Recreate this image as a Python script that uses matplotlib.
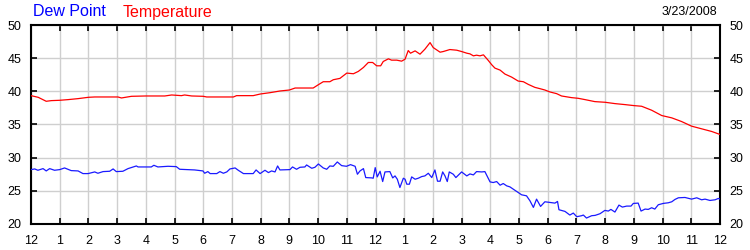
import matplotlib
matplotlib.use("Agg")
import matplotlib.pyplot as plt

plt.rcParams['font.family'] = ['Liberation Sans', 'DejaVu Sans']

# Temperature readings (hours since midnight, degrees F)
temp_hours = [0.0, 0.25, 0.53, 0.71, 1.0, 1.29, 1.64, 2.0, 2.22, 3.03, 3.15, 3.5, 4.0,
              4.66, 4.9, 5.24, 5.35, 5.6, 6.0, 6.12, 7.05, 7.16, 7.74, 7.99, 8.33, 8.67,
              9.0, 9.2, 9.83, 10.01, 10.18, 10.41, 10.53, 10.76, 11.0, 11.23, 11.4, 11.58,
              11.75, 11.9, 12.04, 12.18, 12.27, 12.45, 12.56, 12.74, 12.91, 13.03, 13.14,
              13.22, 13.38, 13.55, 13.72, 13.9, 14.01, 14.25, 14.36, 14.59, 14.83, 15.0,
              15.18, 15.29, 15.41, 15.52, 15.64, 15.76, 15.93, 16.05, 16.16, 16.34, 16.51,
              16.74, 16.97, 17.15, 17.32, 17.55, 17.73, 17.9, 18.08, 18.31, 18.48, 18.83,
              19.06, 19.3, 19.64, 20.0, 20.34, 20.69, 21.0, 21.27, 21.62, 21.97, 22.32,
              22.66, 23.01, 23.36, 23.71, 24.0]
temperature = [39.35, 39.1, 38.5, 38.6, 38.65, 38.75, 38.9, 39.1, 39.15, 39.15, 39.0, 39.25, 39.3,
               39.3, 39.45, 39.35, 39.45, 39.3, 39.25, 39.15, 39.15, 39.35, 39.35, 39.6, 39.8, 40.05,
               40.2, 40.5, 40.5, 41.0, 41.45, 41.45, 41.75, 41.95, 42.75, 42.65, 43.0, 43.6,
               44.35, 44.35, 43.85, 43.85, 44.5, 44.9, 44.7, 44.7, 44.55, 44.85, 46.15,
               45.75, 46.1, 45.6, 46.35, 47.35, 46.6, 45.9, 46.0, 46.3, 46.2, 46.0,
               45.75, 45.65, 45.35, 45.45, 45.35, 45.5, 44.65, 44.0, 43.5, 43.2, 42.6,
               42.15, 41.55, 41.45, 41.05, 40.6, 40.4, 40.2, 39.9, 39.65, 39.3, 39.05,
               38.95, 38.75, 38.45, 38.35, 38.15, 38.0, 37.85, 37.75, 37.15, 36.35, 36.0,
               35.45, 34.75, 34.35, 33.95, 33.5]

# Dew point readings
dew_hours = [0.0, 0.13, 0.24, 0.42, 0.53, 0.65, 0.82, 1.0, 1.17, 1.4, 1.64, 1.81, 1.99, 2.22,
             2.33, 2.51, 2.74, 2.86, 2.97, 3.2, 3.38, 3.67, 3.73, 4.19, 4.28, 4.42, 4.77, 5.06,
             5.18, 5.7, 5.99, 6.05, 6.16, 6.24, 6.47, 6.58, 6.7, 6.82, 6.93, 7.11, 7.22, 7.4,
             7.74, 7.84, 7.98, 8.15, 8.27, 8.38, 8.5, 8.59, 8.67, 9.02, 9.11, 9.25, 9.37, 9.54,
             9.6, 9.78, 9.89, 10.01, 10.18, 10.3, 10.41, 10.53, 10.67, 10.82, 10.99, 11.13,
             11.29, 11.37, 11.46, 11.58, 11.66, 11.87, 11.92, 11.99, 12.06, 12.16, 12.25,
             12.33, 12.5, 12.6, 12.68, 12.76, 12.85, 12.97, 13.03, 13.09, 13.18, 13.26, 13.38,
             13.49, 13.61, 13.72, 13.84, 13.96, 14.07, 14.16, 14.25, 14.34, 14.42, 14.5, 14.57,
             14.71, 14.8, 15.0, 15.18, 15.29, 15.41, 15.52, 15.7, 15.81, 15.99, 16.1, 16.22,
             16.34, 16.45, 16.57, 16.68, 16.92, 17.09, 17.26, 17.38, 17.5, 17.61, 17.75, 17.9,
             18.08, 18.25, 18.34, 18.39, 18.6, 18.77, 18.89, 19.01, 19.18, 19.24, 19.35, 19.53,
             19.65, 19.82, 19.99, 20.11, 20.2, 20.34, 20.48, 20.6, 20.75, 20.9, 20.98, 21.15,
             21.25, 21.39, 21.5, 21.62, 21.73, 21.85, 22.02, 22.2, 22.32, 22.43, 22.55, 22.78,
             23.01, 23.19, 23.36, 23.48, 23.65, 23.83, 23.94, 24.0]
dew_point = [28.2, 28.3, 28.1, 28.35, 28.0, 28.35, 28.1, 28.2, 28.45, 28.05, 28.0, 27.6, 27.6, 27.85,
             27.65, 27.9, 27.95, 28.3, 27.9, 27.95, 28.35, 28.75, 28.6, 28.6, 28.85, 28.6, 28.7, 28.65,
             28.25, 28.15, 28.0, 27.65, 27.9, 27.6, 27.6, 27.9, 27.65, 27.85, 28.3, 28.45, 28.1, 27.6,
             27.6, 28.15, 27.6, 28.1, 27.75, 28.0, 27.85, 28.75, 28.15, 28.2, 28.6, 28.25, 28.55, 28.6,
             28.9, 28.4, 28.55, 29.05, 28.45, 28.25, 28.75, 28.7, 29.35, 28.8, 28.7, 28.95,
             28.7, 27.5, 28.0, 28.35, 27.0, 26.95, 26.9, 28.5, 27.1, 27.95, 26.4,
             27.85, 27.9, 26.95, 27.25, 26.75, 25.5, 26.9, 26.75, 26.0, 26.0, 27.1, 26.75,
             26.9, 27.15, 27.25, 27.65, 27.0, 28.15, 26.45, 26.45, 27.85, 27.25, 26.4, 27.85,
             27.5, 27.0, 27.85, 27.25, 27.55, 27.4, 27.9, 27.85, 27.9, 26.35, 26.25, 26.4,
             25.85, 26.1, 25.75, 25.6, 24.9, 24.4, 24.25, 23.5, 22.5, 23.75, 22.65, 23.35,
             23.25, 23.15, 23.4, 22.15, 21.9, 21.35, 21.65, 21.1, 21.25, 21.35, 20.9, 21.25,
             21.3, 21.55, 22.05, 21.95, 22.2, 21.8, 22.85, 22.55, 22.7, 22.7, 23.1, 23.15,
             21.95, 22.25, 22.2, 22.45, 22.25, 22.9, 23.1, 23.2, 23.35, 23.7, 23.95, 24.0,
             23.75, 23.95, 23.65, 23.75, 23.55, 23.65, 23.85, 23.75]

hour_ticks = list(range(25))
hour_labels = ['12', '1', '2', '3', '4', '5', '6', '7', '8', '9', '10', '11',
               '12', '1', '2', '3', '4', '5', '6', '7', '8', '9', '10', '11', '12']
y_ticks = [20, 25, 30, 35, 40, 45, 50]
legend_names = ['Dew Point', 'Temperature']
date_label = '3/23/2008'

fig = plt.figure(figsize=(7.5, 2.5), dpi=100)
ax = fig.add_axes([31/750, 1 - 224/250, (720-31)/750, (224-25)/250])

ax.plot(temp_hours, temperature, color='#ff0000', lw=0.9, zorder=3)
ax.plot(dew_hours, dew_point, color='#1a1aff', lw=0.9, zorder=3)

ax.set_xlim(0, 24)
ax.set_ylim(20, 50)
ax.set_xticks(hour_ticks)
ax.set_xticklabels(hour_labels)
ax.set_yticks(y_ticks)
ax.grid(True, color='#cfcfcf', lw=1.0)
ax.set_axisbelow(True)
for s in ax.spines.values():
    s.set_linewidth(1.5)
    s.set_color('black')
ax.tick_params(axis='both', which='both', direction='in', length=4, width=1.2,
               labelsize=9, colors='black', top=True, right=True,
               labelright=True, labelleft=True)
ax.tick_params(axis='x', pad=8)
ax.tick_params(axis='y', pad=7)

fig.text(33/750, 1 - 12/250, legend_names[0], color='#0000ff', fontsize=11.5, va='center', ha='left')
fig.text(123/750, 1 - 12/250, legend_names[1], color='#ff0000', fontsize=11.5, va='center', ha='left')
fig.text(717/750, 1 - 12/250, date_label, color='black', fontsize=9, va='center', ha='right')

fig.savefig('out.png', dpi=100)
